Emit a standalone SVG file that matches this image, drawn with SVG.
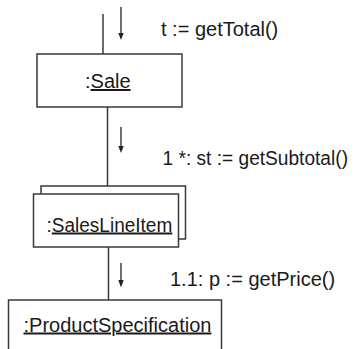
<svg xmlns="http://www.w3.org/2000/svg" width="360" height="349" viewBox="0 0 360 349">
<style>
.box{fill:#fff;stroke:#3a3a3a;stroke-width:1.5}
.ln{stroke:#3a3a3a;stroke-width:1.5;fill:none}
.msg{stroke:#222;stroke-width:1.3}
.head{fill:#222}
text{font-family:"Liberation Sans",Arial,sans-serif;font-size:20px;fill:#1a1a1a}
.u{text-decoration:underline}
</style>
<g id="connectors">
<line class="ln" x1="103" y1="14" x2="103" y2="54"/>
<line class="ln" x1="107.5" y1="107" x2="107.5" y2="186"/>
<line class="ln" x1="108.5" y1="247" x2="108.5" y2="300"/>
</g>
<g id="messages">
<line class="msg" x1="121" y1="7" x2="121" y2="34"/>
<path class="head" d="M118.3,33 L123.7,33 L121,40 Z"/>
<text x="161" y="36">t := getTotal()</text>
<line class="msg" x1="121" y1="127" x2="121" y2="147"/>
<path class="head" d="M118.3,146 L123.7,146 L121,153 Z"/>
<text x="162.5" y="165" textLength="185.5" lengthAdjust="spacingAndGlyphs">1 *: st := getSubtotal()</text>
<line class="msg" x1="121" y1="263" x2="121" y2="281"/>
<path class="head" d="M118.3,280 L123.7,280 L121,287.5 Z"/>
<text x="170" y="285.5">1.1: p := getPrice()</text>
</g>
<g id="sale">
<rect class="box" x="37" y="54" width="145" height="53"/>
<text x="85" y="88">:<tspan class="u">Sale</tspan></text>
</g>
<g id="saleslineitem">
<path class="ln" d="M41,194 V186 H185.5 V239 H178"/>
<rect class="box" x="33.5" y="194" width="145" height="53"/>
<text x="46.5" y="231.5" textLength="125.8" lengthAdjust="spacingAndGlyphs">:<tspan class="u">SalesLineItem</tspan></text>
</g>
<g id="productspecification">
<rect class="box" x="8.5" y="300" width="213" height="60"/>
<text x="23.5" y="331.5"><tspan class="u">:ProductSpecification</tspan></text>
</g>
</svg>
